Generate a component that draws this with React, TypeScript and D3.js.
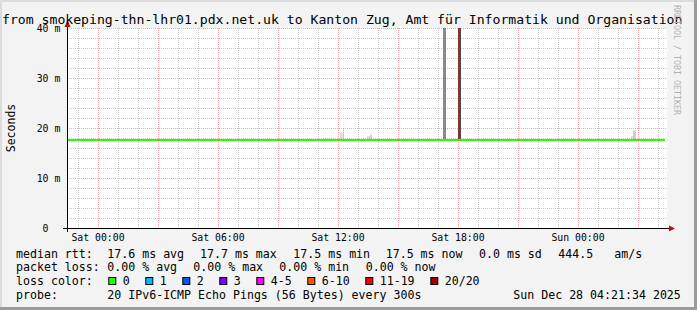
import React from "react";
import * as d3 from "d3";

// ---------- data ----------
const titleText = "from smokeping-thn-lhr01.pdx.net.uk to Kanton Zug, Amt für Informatik und Organisation";
const yLabel = "Seconds";
const domainStart = "2025-12-26T22:27";
const domainEnd = "2025-12-28T04:27";

const medianStamps = [
  "2025-12-26T22:27", "2025-12-26T23:00",
  "2025-12-27T00:00", "2025-12-27T01:00", "2025-12-27T02:00", "2025-12-27T03:00",
  "2025-12-27T04:00", "2025-12-27T05:00", "2025-12-27T06:00", "2025-12-27T07:00",
  "2025-12-27T08:00", "2025-12-27T09:00", "2025-12-27T10:00", "2025-12-27T11:00",
  "2025-12-27T12:00", "2025-12-27T13:00", "2025-12-27T14:00", "2025-12-27T15:00",
  "2025-12-27T16:00", "2025-12-27T17:00", "2025-12-27T18:00", "2025-12-27T19:00",
  "2025-12-27T20:00", "2025-12-27T21:00", "2025-12-27T22:00", "2025-12-27T23:00",
  "2025-12-28T00:00", "2025-12-28T01:00", "2025-12-28T02:00", "2025-12-28T03:00",
  "2025-12-28T04:00", "2025-12-28T04:20",
];
const medianValues = [
  17.6, 17.6, 17.6, 17.6, 17.6, 17.6, 17.6, 17.6, 17.6, 17.6, 17.6, 17.6,
  17.6, 17.6, 17.7, 17.6, 17.6, 17.6, 17.6, 17.6, 17.6, 17.6, 17.6, 17.6,
  17.6, 17.6, 17.6, 17.6, 17.6, 17.6, 17.6, 17.6,
];

// smoke (ping spread) segments
const smokeStart = [
  "2025-12-27T11:15", "2025-12-27T12:06", "2025-12-27T12:15", "2025-12-27T13:27",
  "2025-12-27T13:36", "2025-12-27T15:27", "2025-12-27T17:15", "2025-12-27T18:00",
  "2025-12-28T02:39", "2025-12-28T02:45",
];
const smokeEnd = [
  "2025-12-27T11:45", "2025-12-27T12:15", "2025-12-27T12:18", "2025-12-27T13:39",
  "2025-12-27T13:42", "2025-12-27T15:45", "2025-12-27T17:24", "2025-12-27T18:09",
  "2025-12-28T02:45", "2025-12-28T02:54",
];
const smokeLow = [17.6, 17.6, 17.6, 17.6, 17.6, 17.6, 17.6, 17.6, 17.6, 17.6];
const smokeHigh = [17.9, 19.1, 19.9, 18.4, 18.7, 17.85, 45, 45, 18.4, 19.5];
const smokeLevel = [1, 1, 2, 1, 2, 1, 4, 5, 1, 2];

const yTicks = [0, 10, 20, 30, 40];

const rttLabel = "median rtt:";
const rttItems = ["17.6 ms avg", "17.7 ms max", "17.5 ms min", "17.5 ms now", "0.0 ms sd", "444.5", "am/s"];
const lossLabel = "packet loss:";
const lossItems = ["0.00 % avg", "0.00 % max", "0.00 % min", "0.00 % now"];
const lossColorLabel = "loss color:";
const lossColorNames = ["0", "1", "2", "3", "4-5", "6-10", "11-19", "20/20"];
const lossColorValues = ["#26ff00", "#00b8ff", "#0059ff", "#7e00ff", "#ff00ff", "#ff5500", "#ff0000", "#a10000"];
const probeLabel = "probe:";
const probeText = "20 IPv6-ICMP Echo Pings (56 Bytes) every 300s";
const stampText = "Sun Dec 28 04:21:34 2025";
const sideText = "RRDTOOL / TOBI OETIKER";

// ---------- layout ----------
const W = 697, H = 310;
const PL = 67, PR = 667, PT = 28, PB = 228;
const MONO = "'DejaVu Sans Mono', monospace";
const CW = 7.0; // legend char advance
const rttX = [107.3, 200, 293.3, 385.7, 479, 558.3, 614.3];
const lossX = [107.3, 193.3, 279.3, 365.7];
const rowY = [257.5, 271.3, 285.1, 298.9];
const smokeShades = ["#ffffff", "#dedede", "#cfcfcf", "#b5b5b5", "#8a8a8a", "#574848"];

export default function App() {
  const parse = (s: string) => new Date(s);
  const x = d3.scaleTime().domain([parse(domainStart), parse(domainEnd)]).range([PL, PR]);
  const y = d3.scaleLinear().domain([0, 40]).range([PB, PT]);

  const hours = d3.timeHour.every(1)!.range(parse(domainStart), parse(domainEnd));
  const minorY = d3.range(0, 41, 2);
  const fmt = d3.timeFormat("%a %H:%M");

  const medianPts = medianStamps.map((s, i) => [parse(s), medianValues[i]] as [Date, number]);
  const line = d3.line<[Date, number]>()
    .x((d) => Math.round(x(d[0])))
    .y((d) => Math.round(y(d[1])))
    .curve(d3.curveStepAfter);

  // legend swatch positions
  const swX: number[] = [];
  let cx = 108.3;
  lossColorNames.forEach((n) => {
    swX.push(cx);
    cx += 30 + n.length * CW;
  });

  const crisp = (v: number) => Math.round(v) + 0.5;

  return (
    <svg width={W} height={H} style={{ position: "absolute", left: 0, top: 0 }} xmlns="http://www.w3.org/2000/svg">
      <defs>
        <clipPath id="plotclip">
          <rect x={PL} y={PT} width={PR - PL} height={PB - PT} />
        </clipPath>
      </defs>
      <rect x={0} y={0} width={W} height={H} fill="#f3f3f3" />
      <rect x={0} y={0} width={W} height={2} fill="#dcdcdc" />
      <rect x={0} y={0} width={2} height={H} fill="#dcdcdc" />
      <rect x={W - 3} y={0} width={3} height={H} fill="#9b9b9b" />
      <rect x={0} y={H - 3} width={W} height={3} fill="#9b9b9b" />

      <rect x={PL} y={PT} width={PR - PL} height={PB - PT} fill="#ffffff" />

      {/* data */}
      <g clipPath="url(#plotclip)">
        {smokeStart.map((s, i) => {
          const x0 = x(parse(s));
          const x1 = x(parse(smokeEnd[i]));
          const yTop = y(smokeHigh[i]);
          const yBot = y(smokeLow[i]);
          return (
            <rect key={"s" + i} x={x0} y={yTop} width={Math.max(1, x1 - x0)} height={yBot - yTop}
              fill={smokeShades[smokeLevel[i]]} />
          );
        })}
        <path d={line(medianPts) || ""} fill="none" stroke={lossColorValues[0]} strokeWidth={2} shapeRendering="crispEdges" />
      </g>

      {/* grid */}
      {minorY.filter((v) => v % 10 !== 0).map((v) => (
        <line key={"hy" + v} x1={PL} x2={PR} y1={crisp(y(v))} y2={crisp(y(v))}
          stroke="rgba(120,120,120,0.4)" strokeDasharray="1,1" />
      ))}
      {hours.filter((h) => h.getHours() % 3 !== 0).map((h, i) => (
        <line key={"vx" + i} x1={crisp(x(h))} x2={crisp(x(h))} y1={PT} y2={PB}
          stroke="rgba(120,120,120,0.4)" strokeDasharray="1,1" />
      ))}
      {yTicks.filter((v) => v > 0).map((v) => (
        <line key={"my" + v} x1={PL} x2={PR} y1={crisp(y(v))} y2={crisp(y(v))}
          stroke="rgba(235,0,0,0.35)" strokeDasharray="1,1" />
      ))}
      {hours.filter((h) => h.getHours() % 3 === 0).map((h, i) => (
        <line key={"mx" + i} x1={crisp(x(h))} x2={crisp(x(h))} y1={PT} y2={PB}
          stroke="rgba(235,0,0,0.35)" strokeDasharray="1,1" />
      ))}

      {/* axes */}
      <line x1={PL - 4} x2={PR + 3} y1={PB + 0.5} y2={PB + 0.5} stroke="#000" />
      <line x1={PL + 0.5} x2={PL + 0.5} y1={PB + 4} y2={PT - 2} stroke="#000" />
      <path d={`M${PR + 2},${PB - 2.5} L${PR + 8},${PB + 0.5} L${PR + 2},${PB + 3.5} Z`} fill="#a01818" />
      <path d={`M${PL - 2.5},${PT - 1} L${PL + 0.5},${PT - 8} L${PL + 3.5},${PT - 1} Z`} fill="#a01818" />

      {/* y labels */}
      {yTicks.map((v) => (
        <text key={"yl" + v} x={v === 0 ? 48.5 : 60.3} y={y(v) + 3.6} textAnchor="end"
          fontFamily={MONO} fontSize={9.8} fill="#000">
          {v === 0 ? "0" : `${v} m`}
        </text>
      ))}
      {/* x labels */}
      {hours.filter((h) => h.getHours() % 6 === 0).map((h, i) => (
        <text key={"xl" + i} x={x(h)} y={241} textAnchor="middle" fontFamily={MONO} fontSize={9.8} fill="#000">
          {fmt(h)}
        </text>
      ))}

      <text x={2} y={24} fontFamily={MONO} fontSize={13.15} fill="#000">{titleText}</text>
      <text transform="translate(11,128) rotate(-90)" textAnchor="middle" dominantBaseline="central"
        fontFamily={MONO} fontSize={11.5} fill="#000">{yLabel}</text>
      <text transform="translate(677,5) rotate(90)" dominantBaseline="central"
        fontFamily={MONO} fontSize={8.3} fill="#b3b3b3">{sideText}</text>

      {/* legend */}
      <g fontFamily={MONO} fontSize={11.6} fill="#000">
        <text x={16} y={rowY[0]}>{rttLabel}</text>
        {rttItems.map((t, i) => <text key={"r" + i} x={rttX[i]} y={rowY[0]}>{t}</text>)}
        <text x={16} y={rowY[1]}>{lossLabel}</text>
        {lossItems.map((t, i) => <text key={"l" + i} x={lossX[i]} y={rowY[1]}>{t}</text>)}
        <text x={16} y={rowY[2]}>{lossColorLabel}</text>
        {lossColorNames.map((n, i) => (
          <g key={"c" + i}>
            <rect x={swX[i] + 0.5} y={277.5} width={7} height={7} fill={lossColorValues[i]} stroke="#000" />
            <text x={swX[i] + 14.4} y={rowY[2]}>{n}</text>
          </g>
        ))}
        <text x={16} y={rowY[3]}>{probeLabel}</text>
        <text x={107.3} y={rowY[3]}>{probeText}</text>
        <text x={513.3} y={rowY[3]}>{stampText}</text>
      </g>
    </svg>
  );
}
